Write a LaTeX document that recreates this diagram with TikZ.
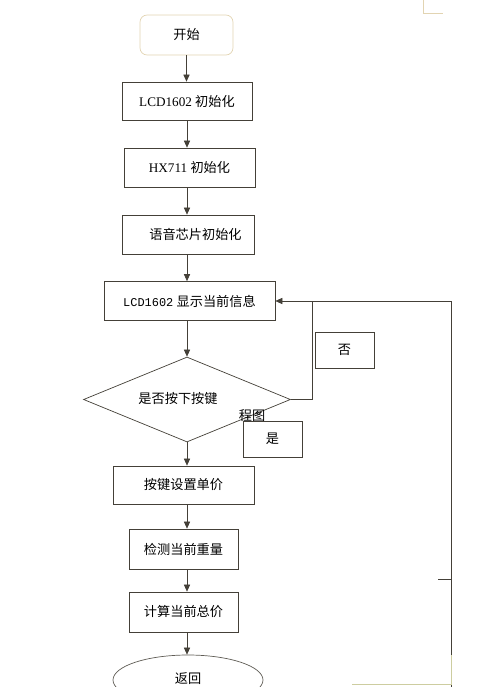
\documentclass[tikz,border=0pt]{standalone}
\usepackage{fontspec}
\setmainfont{Liberation Serif}
\setmonofont{Liberation Mono}
\newfontfamily\cjk{Noto Sans CJK SC}
\usetikzlibrary{shapes.geometric,arrows.meta}
\definecolor{linegray}{RGB}{68,64,56}
\definecolor{tanline}{RGB}{226,212,178}
\definecolor{oliveline}{RGB}{205,205,160}

\begin{document}
\begin{tikzpicture}
           [x=0.02cm, y=-0.02cm,
            box/.style = {draw=linegray,fill=white,rectangle,inner sep=0pt,minimum height=0.78cm,font=\fontsize{7.5}{9}\selectfont},
            lab/.style = {box,minimum width=1.18cm,minimum height=0.72cm},
            arr/.style = {draw=linegray,-{Triangle[length=4pt,width=3.5pt]}},
            ln/.style = {draw=linegray}]
            \useasboundingbox (0,0) rectangle (500,687);
            \draw[tanline] (423,0) -- (423,13) -- (443,13);

            \node[box,draw=tanline,rounded corners=4pt,minimum width=1.86cm,minimum height=0.8cm] (start) at (186.5,35) {\cjk 开始};
            \node[box,minimum width=2.6cm,minimum height=0.76cm] (lcdinit) at (187,101) {LCD1602 {\cjk 初始化}};
            \node[box,minimum width=2.62cm] (hxinit) at (189.5,167.5) {HX711 {\cjk 初始化}};
            \node[box,minimum width=2.64cm] (voiceinit) at (188,234.5) {\cjk\hspace{0.3cm}语音芯片初始化};
            \node[box,minimum width=3.42cm] (lcdshow) at (189.5,301) {{\ttfamily\fontsize{6.8}{9}\selectfont LCD1602} {\cjk 显示当前信息}};
            \node[box,diamond,aspect=2.4,minimum width=4.14cm,minimum height=1.7cm] (key) at (187,399.5) {\kern-0.18cm\raisebox{0.08cm}{\cjk 是否按下按键}\kern0.18cm};
            \node[font=\fontsize{7.5}{9}\selectfont\cjk] (note) at (252,416) {程图};
            \node[lab] (no) at (344.5,350) {\cjk 否};
            \node[lab] (yes) at (272.5,439) {\cjk 是};
            \node[box,minimum width=2.82cm,minimum height=0.76cm] (setprice) at (183.5,485) {\cjk 按键设置单价};
            \node[box,minimum width=2.18cm,minimum height=0.8cm] (weigh) at (183.5,549) {\cjk 检测当前重量};
            \node[box,minimum width=2.18cm,minimum height=0.8cm] (total) at (183.5,612) {\cjk 计算当前总价};
            \node[box,ellipse,draw=linegray!85,minimum width=3cm,minimum height=1cm] (back) at (188,680) {\raisebox{0.08cm}{\cjk 返回}};

            \draw[arr] (start.south) -- (start.south |- lcdinit.north);
            \draw[arr] (lcdinit.south) -- (lcdinit.south |- hxinit.north);
            \draw[arr] (lcdinit.south |- hxinit.south) -- (lcdinit.south |- voiceinit.north);
            \draw[arr] (lcdinit.south |- voiceinit.south) -- (lcdinit.south |- lcdshow.north);
            \draw[arr] (key.north |- lcdshow.south) -- (key.north);
            \draw[arr] (key.south) -- (key.south |- setprice.north);
            \draw[arr] (key.south |- setprice.south) -- (key.south |- weigh.north);
            \draw[arr] (key.south |- weigh.south) -- (key.south |- total.north);
            \draw[arr] (key.south |- total.south) -- (key.south |- back.north);

            \coordinate (loopturn) at (312,301);
            \coordinate (farright) at (451,301);
            \coordinate (farbottom) at (451,687);
            \coordinate (tick) at (438,579);
            \draw[arr] (key.east) -| (loopturn) -- (lcdshow.east);
            \draw[ln] (loopturn) -- (farright) -- (farbottom);
            \draw[ln] (tick) -- (tick -| farright);
            \draw[oliveline] (352,684) -- (451,684) -- (451,655);
        \end{tikzpicture}
\end{document}
